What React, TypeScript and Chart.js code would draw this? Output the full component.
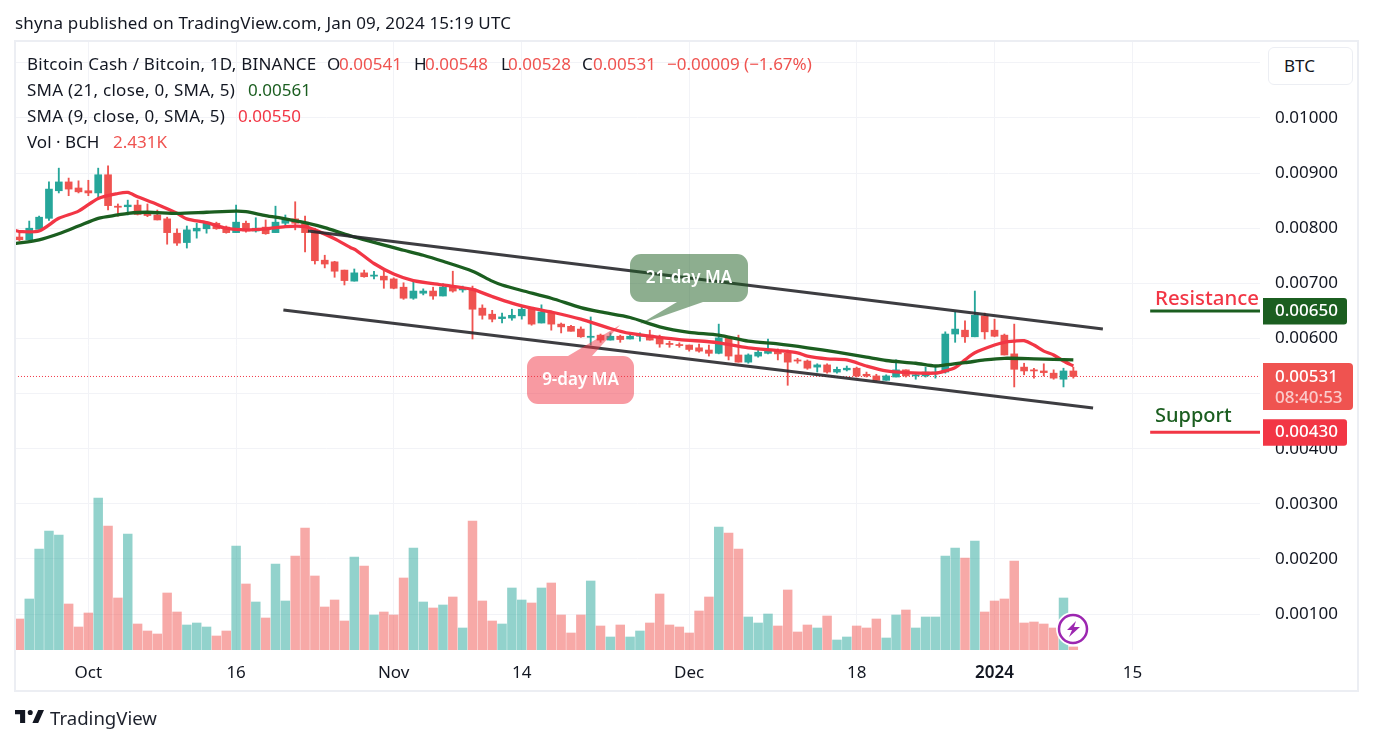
import React, { useEffect, useRef } from "react";
import { Chart, registerables } from "chart.js";

Chart.register(...registerables);

// prices in units of 0.00001 BTC, one entry per day from Sep 24
const UNIT = 1e-5;
const opens = [784,779,798,818,868,884,873,868,864,897,840,839,842,827,824,817,791,774,795,799,809,802,792,809,795,802,792,809,817,811,793,742,739,724,704,719,713,713,708,693,673,682,686,677,693,688,690,655,644,636,637,641,653,628,646,626,622,617,602,606,597,604,599,604,606,601,591,589,588,583,579,573,601,570,557,568,573,579,573,561,559,548,552,539,543,546,535,532,524,530,543,532,532,537,539,608,615,603,641,615,606,572,548,543,541,537,526,541];
const highs = [792,813,822,884,909,891,886,887,909,913,844,851,851,844,833,820,799,804,809,811,811,804,842,813,819,815,840,824,848,822,800,751,740,724,726,724,722,722,710,701,704,690,693,699,722,695,695,661,651,646,653,657,655,661,650,628,624,621,639,608,610,606,606,610,615,606,595,592,588,590,588,626,604,606,572,579,599,581,579,564,561,554,554,548,550,548,539,535,534,561,543,535,548,548,612,648,632,686,646,635,608,626,555,546,554,543,546,548];
const lows = [777,779,798,814,864,859,864,859,854,833,822,824,824,821,815,771,769,764,782,791,798,791,792,793,793,789,792,804,797,757,735,728,711,697,704,711,708,691,690,671,671,679,671,677,684,684,599,635,630,628,633,635,624,628,615,610,613,602,588,593,597,593,599,595,597,584,584,584,577,575,568,572,561,557,555,566,572,561,515,555,544,539,537,537,541,530,530,523,524,530,530,526,530,528,537,593,593,603,599,603,570,512,534,528,532,526,512,528];
const closes = [779,800,820,871,884,871,866,864,897,841,838,842,825,823,815,792,773,797,800,809,799,792,811,795,800,790,811,817,809,792,741,735,722,705,719,712,715,706,691,673,686,686,677,693,686,691,653,642,635,639,642,653,626,648,626,621,613,603,604,597,604,598,604,605,597,590,589,587,580,577,573,601,568,557,570,575,579,572,557,559,546,552,539,544,546,532,532,524,532,543,532,534,539,539,608,617,603,642,612,604,570,544,541,541,538,528,541,531];
// volume in thousands of BCH
const volumes = [24.8,40.8,80.8,95.2,92,36.8,18.4,29.6,121.6,99.2,41.6,92.8,20.8,15.2,12.8,45.6,30.4,20,21.6,18.4,11.2,15.2,83.2,52.8,38.4,25.6,68.8,39.2,75.2,97.6,59.2,34.4,40,23.2,74.4,67.2,28,30.4,28,57.6,81.6,38.4,33.6,36,42.4,17.6,103.2,39.2,23.2,20.8,49.6,40,37.6,49.6,53.6,28,13.6,28,55.2,19.2,10.4,20,10.4,15.2,21.6,44.8,20,18.4,13.6,31.2,42.4,98.4,93.6,80.8,26.4,21.6,28.8,19.2,48,14.4,20,17.6,27.2,8,10.4,19.2,17.6,24.8,9.6,28,32,17.6,26.4,26.4,75.2,81.6,73.6,87.2,30.4,39.2,40.8,71.2,21.6,22.4,20.8,17.6,41.6,2.431];

// moving averages, read at these day indices
const sma9Days = [-0.45,0,2,4,6,8,10,11,12,14,16,17,19,21,23,25,27,29,30,32,33.6,34.2,36,38,40,43,46,48,50,52,54,57,60,62,65,67,70,71,74,77,79,80,82,84,86,88,90,93,94,95,96,97,99,100,101,102,103,104,105,106,107];
const sma9Values = [796,794,795,818,831,854,863,865,857,843,827,817,810,800,797,799,803,803,797,781,765,760,736,717,705,697,689,676,664,655,648,635,618,609,602,598,594,592,583,578,574,568,563,561,550,541,538,537,541,547,561,574,588,593,595,596,588,577,570,559,550];
const sma21Days = [-0.45,2,4,6,8,10,11,13,16,19,22,23,25,27,29,31,33.6,39,41,43,46,48,49,51,54,57,59,62,65,68,71,74,77,80,83,86,88,91,93,94,96,98,100,103,107];
const sma21Values = [772,779,790,804,818,824,827,829,827,829,831,830,823,817,810,801,786,760,751,740,722,704,697,687,673,656,648,638,621,611,606,595,590,583,575,566,560,555,550,552,556,561,564,563,561];

// hand-drawn channel and levels
const upperDays = [29.3,110];
const upperPrices = [795,617];
const lowerDays = [26.8,109];
const lowerPrices = [651.5,474];
const levelDays = [114.8,126];
const resistance = 650;
const support = 430;
const lastPrice = 531;

const priceTicks = [100,200,300,400,500,600,700,800,900,1000,1100];
const dayTicks = [7,22,38,51,68,85,99,113];
const dayTickLabels = ["Oct","16","Nov","14","Dec","18","2024","15"];
const boldDayLabel = "2024";

const UP = "#26a69a";
const DOWN = "#ef5350";
const GREEN = "#1b5e20";
const RED = "#f23645";
const FONT = '"Noto Sans", sans-serif';
const INK = "#131722";

function rr(ctx: CanvasRenderingContext2D, x: number, y: number, w: number, h: number, r: number | number[]) {
  ctx.beginPath();
  ctx.roundRect(x, y, w, h, r);
  ctx.fill();
}

const overlay = {
  id: "overlay",
  afterDraw(chart: any) {
    const ctx: CanvasRenderingContext2D = chart.ctx;
    const yS = chart.scales.y;
    ctx.save();
    // frame
    ctx.strokeStyle = "#eceef3";
    ctx.lineWidth = 2;
    ctx.strokeRect(15, 41, 1343, 650);

    // callouts
    const bubble = (x: number, y: number, w: number, h: number, pts: number[][], color: string, label: string) => {
      ctx.fillStyle = color;
      ctx.beginPath();
      ctx.roundRect(x, y, w, h, 11);
      ctx.moveTo(pts[0][0], pts[0][1]);
      ctx.lineTo(pts[1][0], pts[1][1]);
      ctx.lineTo(pts[2][0], pts[2][1]);
      ctx.closePath();
      ctx.fill();
      ctx.fillStyle = "#ffffff";
      ctx.font = `600 17px ${FONT}`;
      ctx.textAlign = "center";
      ctx.textBaseline = "middle";
      ctx.fillText(label, x + w / 2, y + h / 2);
    };
    bubble(630, 254, 118, 48, [[677, 302], [703, 302], [640, 324]], "rgba(27,94,32,0.5)", "21-day MA");
    bubble(527, 356, 107, 48, [[568, 356], [592, 356], [620, 325]], "rgba(242,54,69,0.5)", "9-day MA");

    // price tags
    ctx.textAlign = "left";
    ctx.textBaseline = "middle";
    const tag = (v: number, color: string) => {
      const py = yS.getPixelForValue(v);
      ctx.fillStyle = color;
      rr(ctx, 1263, py - 13, 84, 26.5, [0, 3, 3, 0]);
      ctx.fillStyle = "#ffffff";
      ctx.font = `500 17px ${FONT}`;
      ctx.fillText((v * UNIT).toFixed(5), 1275, py + 0.5);
    };
    tag(resistance, GREEN);
    tag(support, RED);
    const py = yS.getPixelForValue(lastPrice);
    ctx.fillStyle = DOWN;
    rr(ctx, 1263, py - 13.5, 90, 47, [0, 4, 4, 0]);
    ctx.fillStyle = "#ffffff";
    ctx.font = `500 17px ${FONT}`;
    ctx.fillText((lastPrice * UNIT).toFixed(5), 1275, py + 0.5);
    ctx.fillStyle = "rgba(255,255,255,0.7)";
    ctx.fillText("08:40:53", 1275, py + 21.5);

    // lightning badge
    const bx = 1073;
    const by = 629;
    ctx.fillStyle = "#ffffff";
    ctx.beginPath();
    ctx.arc(bx, by, 17, 0, Math.PI * 2);
    ctx.fill();
    ctx.strokeStyle = "#9c27b0";
    ctx.lineWidth = 2.5;
    ctx.beginPath();
    ctx.arc(bx, by, 14, 0, Math.PI * 2);
    ctx.stroke();
    ctx.fillStyle = "#9c27b0";
    ctx.beginPath();
    ctx.moveTo(bx + 3, by - 8);
    ctx.lineTo(bx - 6, by + 1);
    ctx.lineTo(bx - 1, by + 1);
    ctx.lineTo(bx - 4, by + 8);
    ctx.lineTo(bx + 7, by - 2);
    ctx.lineTo(bx + 1, by - 2);
    ctx.closePath();
    ctx.fill();
    ctx.restore();
  },
};

function Label(p: { x: number; y: number; c?: string; s?: number; w?: number; ls?: number; children: React.ReactNode }) {
  return (
    <div
      style={{
        position: "absolute",
        left: p.x,
        top: p.y,
        transform: "translateY(-50%)",
        color: p.c || INK,
        fontSize: p.s || 17,
        fontWeight: p.w || 400,
        letterSpacing: p.ls || 0,
        fontFamily: FONT,
        whiteSpace: "nowrap",
        lineHeight: 1,
      }}
    >
      {p.children}
    </div>
  );
}

export default function App() {
  const ref = useRef<HTMLCanvasElement>(null);
  useEffect(() => {
    const days = closes.map((_, i) => i);
    const candleColor = closes.map((c, i) => (c >= opens[i] ? UP : DOWN));
    const volColor = closes.map((c, i) => (c >= opens[i] ? "rgba(38,166,154,0.5)" : "rgba(239,83,80,0.5)"));
    const pts = (xs: number[], ys: number[]) => xs.map((x, i) => ({ x, y: ys[i] }));
    const lineBase = { type: "line" as const, pointRadius: 0, pointHoverRadius: 0, fill: false, yAxisID: "y" };
    const chart = new Chart(ref.current!, {
      type: "bar",
      data: {
        datasets: [
          { label: "Vol", yAxisID: "yVol", order: 9, grouped: false, barThickness: 8.8, backgroundColor: volColor, data: days.map((d) => ({ x: d, y: volumes[d] })) },
          { ...lineBase, label: "Last", order: 8, borderColor: RED, borderWidth: 1, borderDash: [1, 2], data: pts([-0.45, 126], [lastPrice, lastPrice]) },
          { label: "Wick", yAxisID: "y", order: 7, grouped: false, barThickness: 1.2, backgroundColor: candleColor, data: days.map((d) => ({ x: d, y: [lows[d], highs[d]] })) },
          { label: "Body", yAxisID: "y", order: 6, grouped: false, barThickness: 7, backgroundColor: candleColor, data: days.map((d) => ({ x: d, y: [Math.min(opens[d], closes[d]), Math.max(opens[d], closes[d]) ] })) },
          { ...lineBase, label: "SMA 9", order: 5, borderColor: RED, borderWidth: 3.3, tension: 0.25, data: pts(sma9Days, sma9Values) },
          { ...lineBase, label: "SMA 21", order: 4, borderColor: GREEN, borderWidth: 3.3, tension: 0.25, data: pts(sma21Days, sma21Values) },
          { ...lineBase, label: "Upper", order: 3, borderColor: "rgba(40,40,44,0.9)", borderWidth: 3, data: pts(upperDays, upperPrices) },
          { ...lineBase, label: "Lower", order: 3, borderColor: "rgba(40,40,44,0.9)", borderWidth: 3, data: pts(lowerDays, lowerPrices) },
          { ...lineBase, label: "Resistance", order: 2, borderColor: GREEN, borderWidth: 3, data: pts(levelDays, [resistance, resistance]) },
          { ...lineBase, label: "Support", order: 2, borderColor: RED, borderWidth: 3, data: pts(levelDays, [support, support]) },
        ] as any,
      },
      options: {
        responsive: false,
        animation: false,
        layout: { padding: { left: 15, top: 41, right: 16, bottom: 53 } },
        plugins: { legend: { display: false }, tooltip: { enabled: false } },
        events: [],
        scales: {
          x: {
            type: "linear",
            offset: false,
            min: -0.447,
            max: 125.95,
            grid: { color: "#f2f3f7", drawTicks: false, offset: false, lineWidth: 1 },
            border: { display: false },
            afterBuildTicks: (s: any) => {
              s.ticks = dayTicks.map((v) => ({ value: v }));
            },
            afterFit: (s: any) => {
              s.height = 41;
            },
            ticks: {
              autoSkip: false,
              maxRotation: 0,
              padding: 13,
              color: INK,
              font: (c: any) => ({ family: FONT, size: 17, weight: dayTickLabels[dayTicks.indexOf(c.tick?.value)] === boldDayLabel ? 600 : 400 }),
              callback: (v: any) => dayTickLabels[dayTicks.indexOf(v)] ?? "",
            },
          },
          y: {
            position: "right",
            min: 34.7,
            max: 1139.7,
            grid: { color: "#f2f3f7", drawTicks: false, lineWidth: 1 },
            border: { display: false },
            afterBuildTicks: (s: any) => {
              s.ticks = priceTicks.map((v) => ({ value: v }));
            },
            afterFit: (s: any) => {
              s.width = 98;
            },
            ticks: {
              padding: 15,
              color: INK,
              font: { family: FONT, size: 17 },
              callback: (v: any) => (v * UNIT).toFixed(5),
            },
          },
          yVol: { display: false, min: 0, max: 487.2, position: "left", afterFit: (s: any) => { s.width = 0; } },
        },
      } as any,
      plugins: [overlay],
    });
    return () => chart.destroy();
  }, []);

  return (
    <div style={{ position: "fixed", left: 0, top: 0, width: 1374, height: 744, background: "#fff", overflow: "hidden" }}>
      <canvas ref={ref} width={1374} height={744} style={{ position: "absolute", left: 0, top: 0, width: 1374, height: 744 }} />
      <Label x={15} y={22} ls={0.17}>shyna published on TradingView.com, Jan 09, 2024 15:19 UTC</Label>

      <Label x={27} y={63} ls={0.23}>Bitcoin Cash / Bitcoin, 1D, BINANCE</Label>
      <Label x={327} y={63}>O</Label>
      <Label x={339} y={63} c={DOWN}>0.00541</Label>
      <Label x={414} y={63}>H</Label>
      <Label x={425} y={63} c={DOWN}>0.00548</Label>
      <Label x={501} y={63}>L</Label>
      <Label x={508} y={63} c={DOWN}>0.00528</Label>
      <Label x={582} y={63}>C</Label>
      <Label x={593} y={63} c={DOWN}>0.00531</Label>
      <Label x={667} y={63} c={DOWN}>−0.00009 (−1.67%)</Label>

      <Label x={27} y={89} ls={0.27}>SMA (21, close, 0, SMA, 5)</Label>
      <Label x={248} y={89} c={GREEN}>0.00561</Label>
      <Label x={27} y={115} ls={0.27}>SMA (9, close, 0, SMA, 5)</Label>
      <Label x={238} y={115} c={RED}>0.00550</Label>
      <Label x={27} y={141}>Vol · BCH</Label>
      <Label x={113} y={141} c={DOWN}>2.431K</Label>

      <Label x={1155} y={297} c={RED} s={20.4} w={500}>Resistance</Label>
      <Label x={1155} y={415} c={GREEN} s={20} w={500}>Support</Label>

      <div style={{ position: "absolute", left: 1268, top: 47, width: 85, height: 38, boxSizing: "border-box", border: "1px solid #eceef3", borderRadius: 6, background: "#fff" }} />
      <Label x={1284} y={65}>BTC</Label>

      <svg style={{ position: "absolute", left: 15, top: 709 }} width="29" height="15" viewBox="0 4 40 18">
        <path fill="#131722" d="M14 4H0v6h7v12h7V4zm18 18h-8l8-18h8l-8 18zm-11-11a3.5 3.5 0 1 0 0-7 3.5 3.5 0 0 0 0 7z" />
      </svg>
      <Label x={50} y={718} s={18.6} c="#1e222d" w={400}>TradingView</Label>
    </div>
  );
}
